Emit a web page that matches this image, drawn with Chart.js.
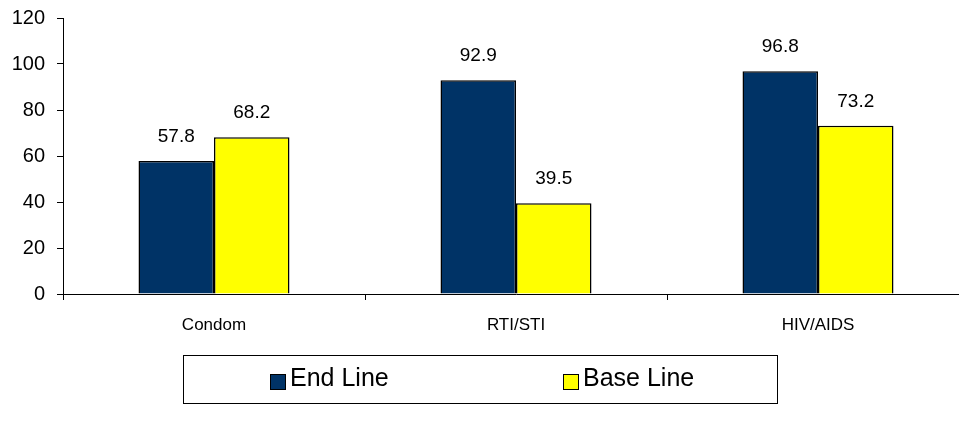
<!DOCTYPE html>
<html>
<head>
<meta charset="utf-8">
<script src="https://cdn.jsdelivr.net/npm/chart.js@4/dist/chart.umd.min.js"></script>
<style>
    body { margin: 0; background: #fff; overflow: hidden; width: 959px; height: 432px; }
    #wrap { width: 970px; height: 432px; }
</style>
</head>
<body>
<div id="wrap"><canvas id="js--chart--1"></canvas></div>
<script>
const labels = ["Condom", "RTI/STI", "HIV/AIDS"];
const endLine = [57.8, 92.9, 96.8];
const baseLine = [68.2, 39.5, 73.2];
const yTicks = [0, 20, 40, 60, 80, 100, 120];

const FONT = "'Liberation Sans', Arial, sans-serif";

// value labels over the bars
const valueLabels = {
    id: "valueLabels",
    afterDatasetsDraw(chart) {
        const ctx = chart.ctx;
        ctx.save();
        ctx.font = "19px " + FONT;
        ctx.fillStyle = "#000";
        ctx.textAlign = "center";
        ctx.textBaseline = "alphabetic";
        chart.data.datasets.forEach(function (ds, i) {
            chart.getDatasetMeta(i).data.forEach(function (bar, j) {
                ctx.fillText(ds.data[j].toFixed(1), bar.x, bar.y - 19);
            });
        });
        ctx.restore();
    }
};

// boxed legend like the original
const boxLegend = {
    id: "boxLegend",
    afterDraw(chart) {
        const ctx = chart.ctx;
        const left = 183, right = 777, top = 355, bottom = 403;
        ctx.save();
        ctx.strokeStyle = "#000";
        ctx.lineWidth = 1;
        ctx.strokeRect(left + 0.5, top + 0.5, right - left, bottom - top);
        const starts = [270, 563];
        const midY = (top + bottom) / 2;
        ctx.font = "25px " + FONT;
        ctx.textBaseline = "middle";
        ctx.textAlign = "left";
        chart.data.datasets.forEach(function (ds, i) {
            const x = starts[i];
            ctx.fillStyle = ds.backgroundColor;
            ctx.fillRect(x, midY - 5, 15, 15);
            ctx.strokeRect(x + 0.5, midY - 5 + 0.5, 15, 15);
            ctx.fillStyle = "#000";
            ctx.fillText(ds.label, x + 20, midY);
        });
        ctx.restore();
    }
};

const data = {
    labels: labels,
    datasets: [
        {
            label: "End Line",
            data: endLine,
            backgroundColor: "#003366",
            borderColor: "#000",
            borderWidth: 1.5
        },
        {
            label: "Base Line",
            data: baseLine,
            backgroundColor: "#FFFF00",
            borderColor: "#000",
            borderWidth: 1.5
        }
    ]
};

const config = {
    type: "bar",
    data: data,
    options: {
        responsive: true,
        maintainAspectRatio: false,
        animation: false,
        layout: { padding: { top: 18, right: 1, bottom: 93, left: 0 } },
        plugins: {
            legend: { display: false },
            tooltip: { enabled: false }
        },
        datasets: {
            bar: { categoryPercentage: 0.5, barPercentage: 1.0 }
        },
        scales: {
            x: {
                grid: { drawOnChartArea: false, color: "#000", tickLength: 6, offset: true },
                border: { color: "#000", width: 1 },
                ticks: { color: "#000", font: { family: FONT, size: 17 }, padding: 15 },
                afterFit: function (scale) { scale.height = 45; }
            },
            y: {
                min: 0,
                max: 120,
                afterBuildTicks: function (scale) {
                    scale.ticks = yTicks.map(function (v) { return { value: v }; });
                },
                grid: { drawOnChartArea: false, color: "#000", tickLength: 6 },
                border: { color: "#000", width: 1 },
                ticks: { color: "#000", font: { family: FONT, size: 20 }, padding: 12 },
                afterFit: function (scale) {
                    scale.width = 63;
                    scale.paddingTop = 0;
                    scale.paddingBottom = 0;
                }
            }
        }
    },
    plugins: [valueLabels, boxLegend]
};

const chart1 = new Chart(document.getElementById("js--chart--1"), config);
</script>
</body>
</html>
